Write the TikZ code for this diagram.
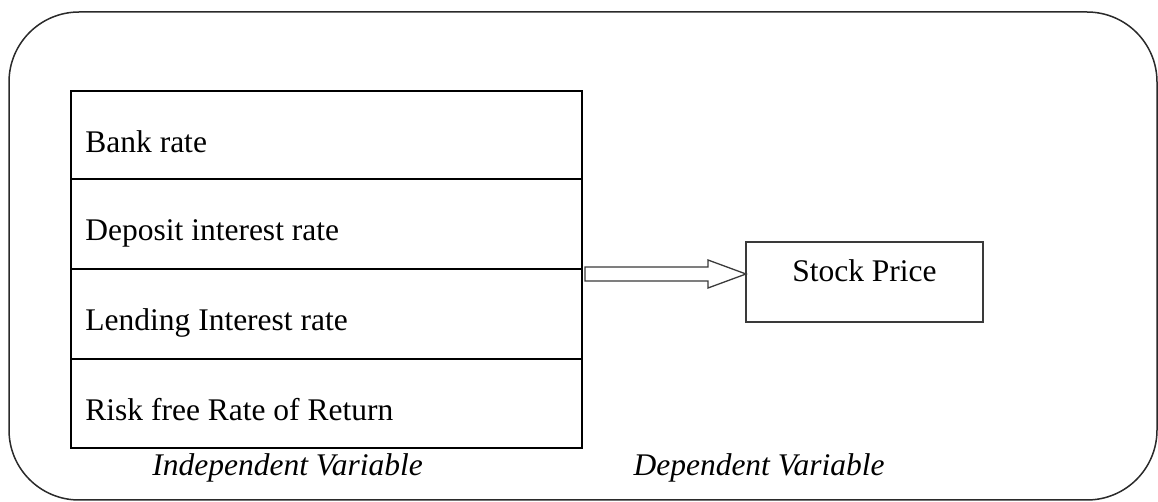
\documentclass[tikz,border=0pt]{standalone}
\usepackage{fontspec}
\setmainfont{Liberation Serif}
\usetikzlibrary{calc}
\definecolor{frame}{HTML}{2A2A2A}
\definecolor{boxline}{HTML}{3A3A3A}
\tikzset{
  outerframe/.style={draw=frame, line width=0.75pt, rounded corners=35pt},
  rowbox/.style={draw=black, line width=1.3pt, minimum width=255.5pt, inner sep=0pt, outer sep=0pt, anchor=north west},
  spbox/.style={draw=boxline, line width=0.85pt, minimum width=118.5pt, minimum height=40pt, inner sep=0pt, outer sep=0pt, anchor=north west},
  rowtext/.style={anchor=base west, inner sep=0pt, font=\fontsize{15.75pt}{18pt}\selectfont},
  boxtext/.style={anchor=base, inner sep=0pt, font=\fontsize{15.75pt}{18pt}\selectfont},
  captext/.style={inner sep=0pt, font=\fontsize{15.75pt}{18pt}\selectfont\itshape},
  blockarrow/.style={draw=boxline, line width=0.65pt, fill=white, line join=miter}
}
\begin{document}
\begin{tikzpicture}[x=0.5pt,y=-0.5pt]
\useasboundingbox (0,0) rectangle (1158,502);
\draw[outerframe] (9,12) rectangle (1157,500);
% table rows
\node[rowbox, minimum height=44pt] (r1) at (71,91) {};
\node[rowbox, minimum height=45pt] (r2) at (r1.south west) {};
\node[rowbox, minimum height=45pt] (r3) at (r2.south west) {};
\node[rowbox, minimum height=44.5pt] (r4) at (r3.south west) {};
\node[rowtext] (t1) at ($(r1.north west)+(14,62)$) {Bank rate};
\node[rowtext] (t2) at ($(r2.north west)+(14,62)$) {Deposit interest rate};
\node[rowtext] (t3) at ($(r3.north west)+(14,62)$) {Lending Interest rate};
\node[rowtext] (t4) at ($(r4.north west)+(14,62)$) {Risk free Rate of Return};
% dependent box
\node[spbox] (sp) at (746,242) {};
\node[boxtext] (spt) at ($(sp.north)+(0,40)$) {Stock Price};
% block arrow
\coordinate (as) at ($(r2.south east)+(3,5)$);
\coordinate (at) at (sp.west |- as);
\draw[blockarrow] ($(as)+(0,-7)$) -- ($(at)+(-38,-7)$) -- ($(at)+(-38,-14)$) -- (at)
  -- ($(at)+(-38,14)$) -- ($(at)+(-38,7)$) -- ($(as)+(0,7)$) -- cycle;
% captions
\node[captext, anchor=base west] (ci) at (152,475) {Independent Variable};
\node[captext, anchor=base east] (cd) at (885,475) {Dependent Variable};
\end{tikzpicture}
\end{document}
